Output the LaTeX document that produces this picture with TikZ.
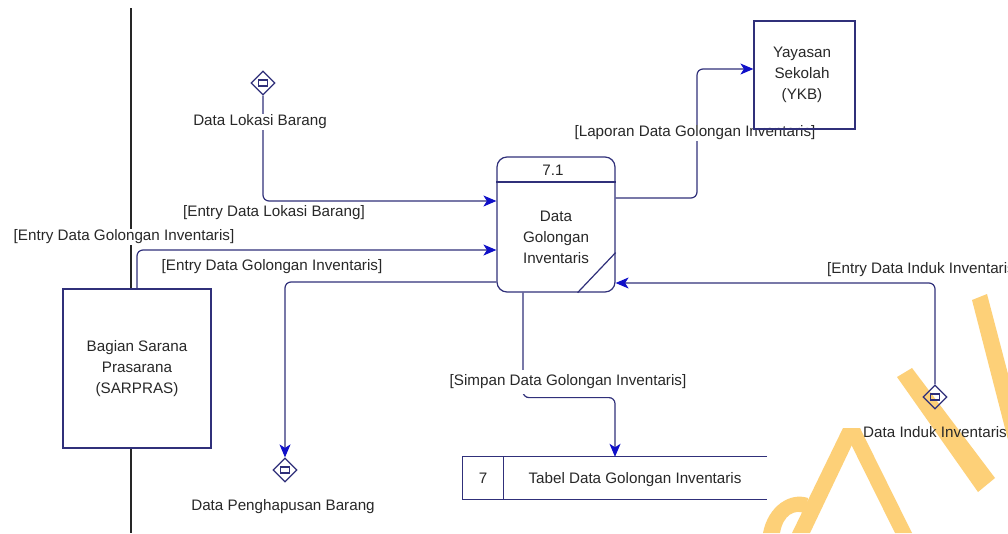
\documentclass[tikz,border=0pt]{standalone}
\usepackage{fontspec}
\setmainfont{Liberation Sans}
\usetikzlibrary{arrows.meta,shapes.geometric,calc}
\definecolor{navy}{RGB}{48,48,122}
\definecolor{arrowblue}{RGB}{16,16,200}
\definecolor{wm}{RGB}{253,208,120}
\definecolor{txt}{RGB}{40,40,40}
\begin{document}
\begin{tikzpicture}[x=1pt,y=-1pt,
  every node/.style={font=\fontsize{15.2}{21}\selectfont, text=txt},
  ent/.style={draw=navy, line width=1.2pt, minimum width=#1, inner sep=0pt, align=center},
  proc/.style={draw=navy, line width=1.2pt, rounded corners=10pt, fill=white, minimum width=118pt, minimum height=135pt, inner sep=0pt},
  dstore/.style={diamond, draw=navy, line width=1.2pt, minimum width=24pt, minimum height=24pt, inner sep=0pt},
  flow/.style={draw=navy, line width=1.2pt, rounded corners=6pt, -{Stealth[length=13pt,width=11pt,inset=3.5pt,color=arrowblue]}},
  edge/.style={draw=navy, line width=1.2pt},
  lbl/.style={fill=white, inner sep=1pt},
  wmark/.style={fill=wm, draw=none}]
\useasboundingbox[fill=white] (0,0) rectangle (1008,533);

% watermark
\fill[wmark] (972,300) -- (987,294) -- (1008,374) -- (1008,440) -- cycle;
\fill[wmark] (897,377) -- (912,368) -- (995,478) -- (978,492) -- cycle;
\fill[wmark] (843,428) -- (860,428) -- (810,533) -- (792,533) -- cycle;
\fill[wmark] (843,428) -- (860,428) -- (912,533) -- (895,533) -- cycle;
\fill[wmark] (763,533) .. controls (768,506) and (790,492) .. (808,498) -- (806,514) .. controls (795,508) and (783,515) .. (780,533) -- cycle;

% swimlane divider
\coordinate (laneTop) at (131,8);
\coordinate (laneBot) at (131,533);
\draw[black!85, line width=1.3pt] (laneTop) -- (laneBot);

% nodes
\node[ent=148pt, minimum height=159pt, fill=white] (sarpras) at (137,368.5) {Bagian Sarana\\Prasarana\\(SARPRAS)};
\node[proc] (proc) at (556,224.5) {};
\node[align=center] (proctext) at (556,237) {Data\\Golongan\\Inventaris};
\node (procid) at (553,170) {7.1};
\coordinate (hdr) at (0,182);
\draw[edge] (proc.west |- hdr) -- (proc.east |- hdr);
\draw[edge] ([xshift=-38pt]proc.south east) -- ([yshift=40pt]proc.south east);

\node[dstore] (lok) at (263,83) {};
\node[dstore] (hapus) at (285,470) {};
\node[dstore] (induk) at (935,397) {};
\foreach \d in {lok,hapus,induk}
  \draw[navy, line width=1.1pt] ([shift={(-4.5,-3)}]\d.center) rectangle ([shift={(4.5,3)}]\d.center);

\node[minimum width=304pt, minimum height=42pt, inner sep=0pt] (store) at (615,478) {};
\draw[edge] (store.north east) -- (store.north west) -- (store.south west) -- (store.south east);
\draw[edge] ([xshift=41pt]store.north west) -- ([xshift=41pt]store.south west);
\node (storeid) at (483,478) {7};
\node (storename) at (635,480) {Tabel Data Golongan Inventaris};

% connectors
\draw[flow] (lok.south) |- ([yshift=23.5pt]proc.west);
\draw[flow] (sarpras.north) |- ([yshift=-25.5pt]proc.west);
\draw[flow] ([yshift=-57.5pt]proc.west) -| (hapus.north);
\coordinate (lapbend) at (697,69);
\node[ent=101pt, minimum height=108pt] (yks) at (804.5,75) {};
\draw[flow] ([yshift=26.5pt]proc.east) -| (lapbend) -- ([yshift=6pt]yks.west);
\draw[flow] (induk.north) |- ([yshift=-58.5pt]proc.east);
\draw[flow] ([xshift=-33pt]proc.south) -- ++(0,105) -| (store.north);

% labels
\node[lbl] (llok) at (260,122) {Data Lokasi Barang};
\node[lbl] (lelok) at (274,213) {[Entry Data Lokasi Barang]};
\node[lbl] (leg1) at (124,237) {[Entry Data Golongan Inventaris]};
\node[lbl] (leg2) at (272,267) {[Entry Data Golongan Inventaris]};
\node[lbl] (llap) at (695,133) {[Laporan Data Golongan Inventaris]};
\node[lbl, anchor=west] (lind) at (826,270) {[Entry Data Induk Inventaris]};
\node[lbl, inner ysep=5pt] (lsim) at (568,382) {[Simpan Data Golongan Inventaris]};
\node (lhapus) at (283,507) {Data Penghapusan Barang};
\node (linduk) at (935,432) {Data Induk Inventaris};

% Yayasan box drawn over its label
\node[ent=101pt, minimum height=108pt] (yksbox) at (804.5,75) {};
\node[align=center] (ykstext) at (802,75) {Yayasan\\Sekolah\\(YKB)};
\end{tikzpicture}
\end{document}
